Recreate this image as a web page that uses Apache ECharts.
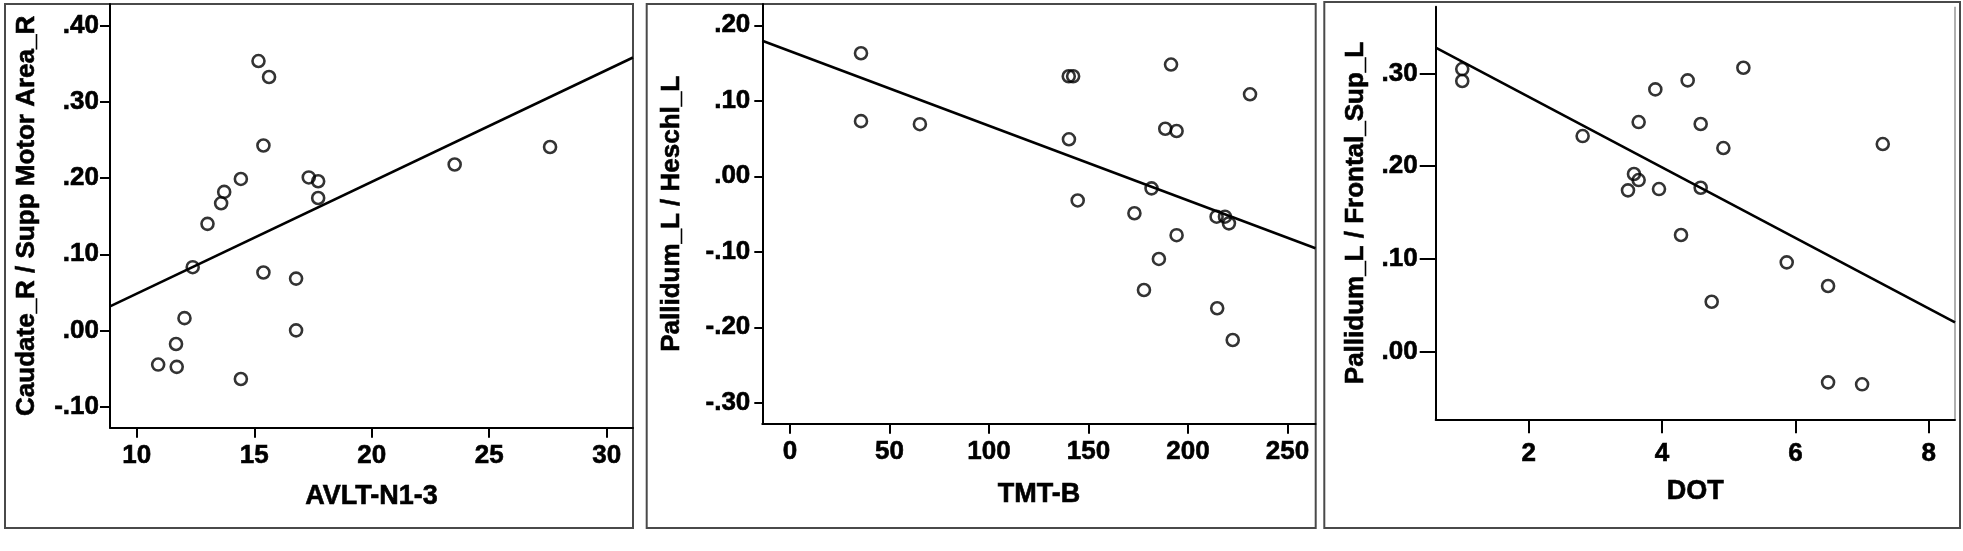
<!DOCTYPE html>
<html>
<head>
<meta charset="utf-8">
<script src="https://cdn.jsdelivr.net/npm/echarts@6/dist/echarts.min.js"></script>
<style>
html,body{margin:0;padding:0;background:#fff;}
#chart{width:1963px;height:551px;}
</style>
</head>
<body>
<div id="chart"></div>
<script>
// ---------- Panel 1: AVLT-N1-3 vs Caudate_R / Supp Motor Area_R ----------
const p1Name = ['AVLT-N1-3', 'Caudate_R / Supp Motor Area_R'];
const p1X = [15.18,15.63,15.39,14.43,13.72,13.59,13.01,12.38,12.03,11.67,10.91,11.70,14.43,15.39,16.78,16.78,17.32,17.72,17.72,23.53,27.59];
const p1Y = [0.354,0.333,0.243,0.199,0.182,0.167,0.140,0.083,0.016,-0.018,-0.045,-0.048,-0.064,0.076,0.068,0.000,0.201,0.196,0.174,0.218,0.241];
const p1FitX = [8.86, 31.12];
const p1FitY = [0.0315, 0.3587];
const p1XTicks = [10,15,20,25,30];
const p1YTicks = [-0.1,0,0.1,0.2,0.3,0.4];
const p1XRange = [8.86, 31.12];
const p1YRange = [-0.128, 0.429];

// ---------- Panel 2: TMT-B vs Pallidum_L / Heschl_L ----------
const p2Name = ['TMT-B', 'Pallidum_L / Heschl_L'];
const p2X = [35.7,35.7,65.3,140.1,142.3,191.5,231.2,188.6,194.3,140.2,181.7,144.6,173.1,214.4,218.6,220.6,194.3,185.4,177.9,214.7,222.5];
const p2Y = [0.163,0.073,0.069,0.1325,0.1325,0.148,0.1086,0.063,0.060,0.049,-0.016,-0.032,-0.049,-0.0535,-0.0535,-0.0623,-0.078,-0.1095,-0.1506,-0.1748,-0.2168];
const p2FitX = [-13.9, 264.1];
const p2FitY = [0.1796, -0.0954];
const p2XTicks = [0,50,100,150,200,250];
const p2YTicks = [-0.3,-0.2,-0.1,0,0.1,0.2];
const p2XRange = [-13.9, 264.1];
const p2YRange = [-0.3277, 0.2282];

// ---------- Panel 3: DOT vs Pallidum_L / Frontal_Sup_L ----------
const p3Name = ['DOT', 'Pallidum_L / Frontal_Sup_L'];
const p3X = [1.005,1.005,5.22,4.385,3.90,3.65,4.58,2.81,4.92,7.31,3.58,3.65,3.49,3.955,4.58,4.285,5.87,6.49,4.745,6.49,7.00];
const p3Y = [0.3046,0.2917,0.306,0.2924,0.2827,0.2475,0.2454,0.2324,0.2195,0.2238,0.1915,0.185,0.1739,0.1753,0.1767,0.1258,0.0963,0.0708,0.0539,-0.033,-0.0351];
const p3FitX = [0.607, 8.393];
const p3FitY = [0.3276, 0.0317];
const p3XTicks = [2,4,6,8];
const p3YTicks = [0,0.1,0.2,0.3];
const p3XRange = [0.607, 8.393];
const p3YRange = [-0.0728, 0.3718];

// ---------- layout / style ----------
const FONT = 'Arial, "Liberation Sans", Helvetica, sans-serif';
const TICK_FS = 26, XNAME_FS = 27, YNAME_FS = 26;
const fmtY = v => {
  const s = Math.abs(v).toFixed(2).replace(/^0/, '');
  return (v < -1e-9 ? '-' : '') + s;
};
const layouts = [
  {grid:{left:110, top:4, width:523, height:423.7}, frame:{x:5,y:4,width:628,height:524},
   yMargin:11, yTick:10, xMargin:15, xTick:10, xGap:55, yGap:70},
  {grid:{left:762.3, top:4, width:553.2, height:419.7}, frame:{x:646.7,y:4,width:669,height:524},
   yMargin:12, yTick:8, xMargin:15, xTick:10, xGap:57, yGap:77},
  {grid:{left:1435.7, top:6.7, width:519.3, height:412.6}, frame:{x:1324.3,y:2,width:635.7,height:526},
   yMargin:18, yTick:16, xMargin:22, xTick:14, xGap:59, yGap:67}
];
const panels = [
  {name:p1Name, xs:p1X, ys:p1Y, fx:p1FitX, fy:p1FitY, xt:p1XTicks, yt:p1YTicks, xr:p1XRange, yr:p1YRange},
  {name:p2Name, xs:p2X, ys:p2Y, fx:p2FitX, fy:p2FitY, xt:p2XTicks, yt:p2YTicks, xr:p2XRange, yr:p2YRange},
  {name:p3Name, xs:p3X, ys:p3Y, fx:p3FitX, fy:p3FitY, xt:p3XTicks, yt:p3YTicks, xr:p3XRange, yr:p3YRange}
];

const textBold = {fontFamily:FONT, fontWeight:'bold', color:'#000', textBorderColor:'#000', textBorderWidth:0.6};
const grid = [], xAxis = [], yAxis = [], series = [], graphic = [];
panels.forEach((p, i) => {
  const L = layouts[i];
  grid.push(Object.assign({containLabel:false}, L.grid));
  xAxis.push({
    type:'value', gridIndex:i, min:p.xr[0], max:p.xr[1],
    name:p.name[0], nameLocation:'middle', nameGap:L.xGap,
    nameTextStyle:Object.assign({fontSize:XNAME_FS}, textBold),
    axisLine:{show:true, onZero:false, lineStyle:{color:'#000', width:2}},
    axisTick:{show:true, inside:false, length:L.xTick, customValues:p.xt, lineStyle:{color:'#000', width:2}},
    axisLabel:Object.assign({show:true, margin:L.xMargin, customValues:p.xt, fontSize:TICK_FS,
      formatter: v => String(v)}, textBold),
    splitLine:{show:false}
  });
  yAxis.push({
    type:'value', gridIndex:i, min:p.yr[0], max:p.yr[1],
    name:p.name[1], nameLocation:'middle', nameGap:L.yGap,
    nameTextStyle:Object.assign({fontSize:YNAME_FS}, textBold),
    axisLine:{show:true, onZero:false, lineStyle:{color:'#000', width:2}},
    axisTick:{show:true, inside:false, length:L.yTick, customValues:p.yt, lineStyle:{color:'#000', width:2}},
    axisLabel:Object.assign({show:true, margin:L.yMargin, customValues:p.yt, fontSize:TICK_FS,
      formatter: fmtY}, textBold),
    splitLine:{show:false}
  });
  series.push({
    type:'line', xAxisIndex:i, yAxisIndex:i, symbol:'none', silent:true, clip:true,
    lineStyle:{color:'#000', width:2.6},
    data:p.fx.map((x, k) => [x, p.fy[k]])
  });
  series.push({
    type:'scatter', xAxisIndex:i, yAxisIndex:i, symbol:'circle', symbolSize:12, silent:true,
    itemStyle:{color:'rgba(0,0,0,0)', borderColor:'#000', borderWidth:2.6},
    data:p.xs.map((x, k) => [x, p.ys[k]])
  });
  graphic.push({
    type:'rect', shape:L.frame, silent:true, z:-1,
    style:{fill:'none', stroke:'#4a4a4a', lineWidth:2}
  });
});
// panel 3: light grey right edge of the plot area
graphic.push({
  type:'line', silent:true,
  shape:{x1:layouts[2].grid.left + layouts[2].grid.width, y1:layouts[2].grid.top,
         x2:layouts[2].grid.left + layouts[2].grid.width, y2:layouts[2].grid.top + layouts[2].grid.height},
  style:{stroke:'#b0b0b0', lineWidth:2}
});

const chart = echarts.init(document.getElementById('chart'), null, {renderer:'canvas'});
chart.setOption({
  animation:false,
  backgroundColor:'#fff',
  grid, xAxis, yAxis, series, graphic
});
</script>
</body>
</html>
